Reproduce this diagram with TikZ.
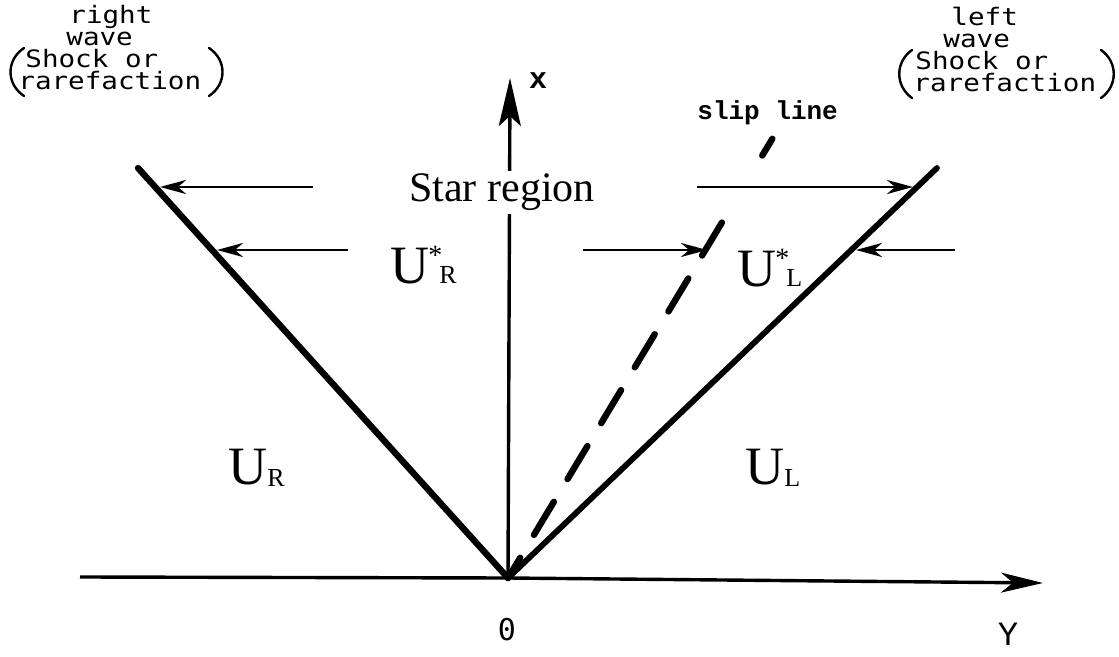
\documentclass[tikz,border=0pt]{standalone}
\usepackage{fontspec}
\setmainfont{Liberation Serif}
\newfontfamily\labmono[FakeStretch=1.15]{DejaVu Sans Mono}
\newfontfamily\digmono{DejaVu Sans Mono}
\newfontfamily\slipmono{Liberation Mono}
\usetikzlibrary{arrows.meta,calc}
\newcommand{\UstarX}[1]{U\kern-0.5pt{\fontsize{14}{14}\selectfont\raisebox{9.5pt}{*}\kern-1.5pt{\fontsize{13}{13}\selectfont #1}}}
\newcommand{\UsubX}[1]{U{\fontsize{13}{13}\selectfont\raisebox{-1pt}{#1}}}
\begin{document}
\begin{tikzpicture}[x=0.5pt,y=-0.5pt,
  axis/.style={line width=1.7pt},
  wave/.style={line width=3.2pt, line cap=round},
  slip/.style={line width=3.2pt, line cap=round},
  flow/.style={line width=1.4pt, -{Stealth[length=13pt,width=7pt,inset=4pt]}},
  paren/.style={line width=1.2pt, line cap=round},
  labL/.style={font=\labmono\fontsize{12}{13}\selectfont, inner sep=0pt, anchor=base west, text height=7pt, text depth=1.5pt},
  region/.style={font=\fontsize{21}{23}\selectfont, inner sep=1.5pt},
  state/.style={font=\fontsize{27}{27}\selectfont, inner sep=0pt, anchor=base west},
  axlab/.style={inner sep=0pt, anchor=base}]
\useasboundingbox (0,0) rectangle (1119,657);
% key points
\coordinate (O) at (508,578);
\coordinate (xtip) at (510,78);
\coordinate (yleft) at (80,577);
\coordinate (ytip) at (1043,583);
\coordinate (LT) at (138,168);
\coordinate (RT) at (937,168);
\coordinate (ST) at (774,136);
% axes
\draw[axis] (yleft) -- (O);
\draw[axis, -{Stealth[length=21pt,width=10pt,inset=6pt]}] (O) -- (ytip);
\draw[axis, -{Stealth[length=24pt,width=11pt,inset=5pt]}] (O) -- (xtip);
\node[region, fill=white, anchor=base] (star) at (502,202) {Star region};
% waves
\draw[wave] (LT) -- (O);
\draw[wave, line width=2.9pt] (RT) -- (O);
% slip line: one short dash at the top, then regular dashes down to the origin
\draw[slip] ($(ST)!1.6pt!(O)$) -- ($(ST)!11.4pt!(O)$);
\draw[slip, dash pattern=on 19.3pt off 13.3pt] ($(ST)!50.5pt!(O)$) -- (O);
% flow arrows
\coordinate (a1s) at (313,187); \coordinate (a1e) at (160,187);
\coordinate (a2s) at (348,250); \coordinate (a2e) at (217,250);
\coordinate (a3s) at (697,187); \coordinate (a3e) at (913,187);
\coordinate (a4s) at (955,250); \coordinate (a4e) at (856,250);
\coordinate (a5s) at (583,250); \coordinate (a5e) at (707,250);
\draw[flow] (a1s) -- (a1e);
\draw[flow] (a2s) -- (a2e);
\draw[flow] (a3s) -- (a3e);
\draw[flow] (a4s) -- (a4e);
\draw[flow] (a5s) -- (a5e);
% axis labels
\node[axlab, font=\slipmono\bfseries\fontsize{15}{15}\selectfont] (xl) at (538,89) {x};
\node[axlab, font=\digmono\fontsize{15}{15}\selectfont] (zl) at (507,640) {0};
\node[axlab, font=\slipmono\fontsize{17}{17}\selectfont] (yl) at (1008,645) {Y};
\node[axlab, anchor=base west, font=\slipmono\bfseries\fontsize{13}{13}\selectfont] (sl) at (697,120) {slip line};
% states
\node[state] (usr) at (390,284) {\UstarX{R}};
\node[state] (usl) at (737,287) {\UstarX{L}};
\node[state] (ur) at (228,485) {\UsubX{R}};
\node[state] (ul) at (745,485) {\UsubX{L}};
% left wave label
\node[labL] (l1) at (69,24) {right};
\node[labL] (l2) at (66,46) {wave};
\node[labL] (l3) at (25,68) {Shock or};
\node[labL] (l4) at (18,90) {rarefaction};
\draw[paren] (24,48) .. controls (6,60) and (6,84) .. (24,96);
\draw[paren] (209,48) .. controls (227,60) and (227,84) .. (209,96);
% right wave label
\node[labL] (r1) at (951,26) {left};
\node[labL] (r2) at (943,48) {wave};
\node[labL] (r3) at (915,70) {Shock or};
\node[labL] (r4) at (913,92) {rarefaction};
\draw[paren] (912,50) .. controls (895,62) and (895,86) .. (912,98);
\draw[paren] (1101,50) .. controls (1118,62) and (1118,86) .. (1101,98);
\end{tikzpicture}
\end{document}
